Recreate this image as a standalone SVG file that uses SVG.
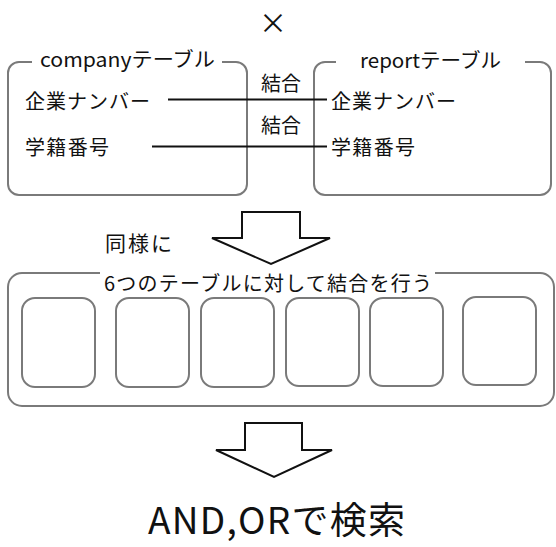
<svg xmlns="http://www.w3.org/2000/svg" width="556" height="547" viewBox="0 0 556 547">
<style>
text{font-family:"Noto Sans CJK JP","Noto Sans",sans-serif;fill:#111;dominant-baseline:central}
.box{fill:none;stroke:#7a7a7a;stroke-width:2}
.conn{stroke:#111;stroke-width:2;fill:none}
.arrow{fill:#fff;stroke:#111;stroke-width:2;stroke-linejoin:miter}
.t20{font-size:20px}
</style>
<rect width="556" height="547" fill="#fff"/>
<text x="273" y="22" font-size="28" text-anchor="middle">×</text>
<g id="company">
<path class="box" d="M32,62 H19 A11,11 0 0 0 8,73 V184 A11,11 0 0 0 19,195 H236 A11,11 0 0 0 247,184 V73 A11,11 0 0 0 236,62 H222"/>
<text class="t20" x="40" y="58" textLength="175" lengthAdjust="spacingAndGlyphs">companyテーブル</text>
<text class="t20" x="25" y="100" textLength="125">企業ナンバー</text>
<text class="t20" x="25" y="146" textLength="84">学籍番号</text>
</g>
<g id="report">
<path class="box" d="M336,62 H325 A11,11 0 0 0 314,73 V184 A11,11 0 0 0 325,195 H540 A11,11 0 0 0 551,184 V73 A11,11 0 0 0 540,62 H525"/>
<text class="t20" x="360" y="59" textLength="141" lengthAdjust="spacingAndGlyphs">reportテーブル</text>
<text class="t20" x="331" y="100" textLength="125">企業ナンバー</text>
<text class="t20" x="331" y="146" textLength="84">学籍番号</text>
</g>
<g id="connectors">
<line class="conn" x1="168" y1="99.5" x2="327" y2="99.5"/>
<line class="conn" x1="152" y1="146.5" x2="327" y2="146.5"/>
<text class="t20" x="281" y="82" text-anchor="middle">結合</text>
<text class="t20" x="281" y="124" text-anchor="middle">結合</text>
</g>
<g id="arrow1">
<path class="arrow" d="M242,212 H300 V238 H330 L271,264 L212,238 H242 Z"/>
<text x="105" y="242" font-size="21" textLength="67">同様に</text>
</g>
<g id="tables">
<path class="box" d="M100,273 H22 A14,14 0 0 0 8,287 V392 A14,14 0 0 0 22,406 H540 A14,14 0 0 0 554,392 V287 A14,14 0 0 0 540,273 H435"/>
<text x="104" y="282" font-size="20" textLength="328">6つのテーブルに対して結合を行う</text>
<rect class="box" x="22" y="298" width="73" height="89" rx="13"/>
<rect class="box" x="116" y="298" width="73" height="89" rx="13"/>
<rect class="box" x="201" y="298" width="73" height="89" rx="13"/>
<rect class="box" x="286" y="298" width="73" height="88" rx="13"/>
<rect class="box" x="370" y="298" width="73" height="88" rx="13"/>
<rect class="box" x="463" y="297" width="73" height="88" rx="13"/>
</g>
<g id="arrow2">
<path class="arrow" d="M245,423 H302 V450 H332 L274,477 L216,450 H245 Z"/>
</g>
<g id="result">
<text x="148" y="518" font-size="37" textLength="257">AND,ORで検索</text>
</g>
</svg>
